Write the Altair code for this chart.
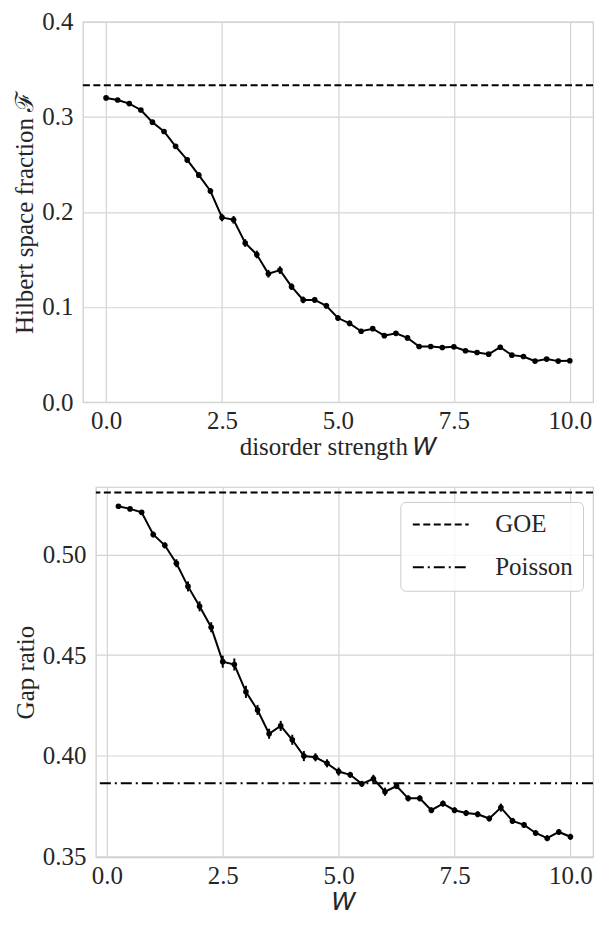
import altair as alt
import pandas as pd

# ---------------- data ----------------
W_top = [0.0, 0.25, 0.5, 0.75, 1.0, 1.25, 1.5, 1.75, 2.0, 2.25, 2.5, 2.75, 3.0, 3.25,
         3.5, 3.75, 4.0, 4.25, 4.5, 4.75, 5.0, 5.25, 5.5, 5.75, 6.0, 6.25, 6.5, 6.75,
         7.0, 7.25, 7.5, 7.75, 8.0, 8.25, 8.5, 8.75, 9.0, 9.25, 9.5, 9.75, 10.0]
F_vals = [0.3199, 0.3177, 0.3139, 0.3072, 0.2944, 0.2846, 0.2690, 0.2547, 0.2387, 0.2220,
          0.1942, 0.1917, 0.1673, 0.1552, 0.1350, 0.1388, 0.1214, 0.1075, 0.1075, 0.1013,
          0.0884, 0.0828, 0.0745, 0.0772, 0.0699, 0.0723, 0.0675, 0.0585, 0.0585, 0.0574,
          0.0581, 0.0540, 0.0522, 0.0504, 0.0577, 0.0494, 0.0480, 0.0431, 0.0452, 0.0431,
          0.0435]
F_err = [0.001, 0.001, 0.001, 0.0015, 0.002, 0.002, 0.0025, 0.003, 0.003, 0.003,
         0.004, 0.004, 0.004, 0.004, 0.004, 0.004, 0.0035, 0.0035, 0.003, 0.003,
         0.003, 0.003, 0.0025, 0.0025, 0.0025, 0.0025, 0.0025, 0.002, 0.002, 0.002,
         0.002, 0.002, 0.002, 0.002, 0.0025, 0.002, 0.002, 0.002, 0.002, 0.002, 0.002]

W_bot = [0.25, 0.5, 0.75, 1.0, 1.25, 1.5, 1.75, 2.0, 2.25, 2.5, 2.75, 3.0, 3.25,
         3.5, 3.75, 4.0, 4.25, 4.5, 4.75, 5.0, 5.25, 5.5, 5.75, 6.0, 6.25, 6.5, 6.75,
         7.0, 7.25, 7.5, 7.75, 8.0, 8.25, 8.5, 8.75, 9.0, 9.25, 9.5, 9.75, 10.0]
G_vals = [0.5239, 0.5226, 0.5209, 0.5099, 0.5045, 0.4956, 0.4841, 0.4742, 0.4638, 0.4467,
          0.4453, 0.4317, 0.4227, 0.4109, 0.4148, 0.4079, 0.3998, 0.3992, 0.3962, 0.3921,
          0.3905, 0.3860, 0.3885, 0.3821, 0.3849, 0.3788, 0.3788, 0.3729, 0.3762, 0.3729,
          0.3715, 0.3709, 0.3688, 0.3742, 0.3676, 0.3656, 0.3616, 0.3590, 0.3621, 0.3597]
G_err = [0.0008, 0.0008, 0.001, 0.0015, 0.0015, 0.002, 0.0025, 0.0025, 0.0025, 0.003,
         0.003, 0.003, 0.0025, 0.0025, 0.0025, 0.0025, 0.0025, 0.002, 0.002, 0.002,
         0.0015, 0.0015, 0.002, 0.002, 0.0015, 0.0015, 0.0015, 0.0015, 0.0015, 0.0015,
         0.0015, 0.0015, 0.0015, 0.002, 0.0015, 0.0015, 0.0015, 0.0015, 0.0015, 0.0015]

ref_names = ["GOE", "Poisson"]
ref_values = [0.5307, 0.3863]
F_goe = 1 / 3

x_ticks = [0, 2.5, 5, 7.5, 10]
F_ticks = [0.0, 0.1, 0.2, 0.3, 0.4]
G_ticks = [0.35, 0.40, 0.45, 0.50]

FONT = "Liberation Serif"
FS = 25
TXT = "#262626"

# ---------------- top panel ----------------
top_df = pd.DataFrame({"W": W_top, "F": F_vals,
                       "lo": [f - e for f, e in zip(F_vals, F_err)],
                       "hi": [f + e for f, e in zip(F_vals, F_err)]})

xt = dict(scale=alt.Scale(domain=[-0.5, 10.5], nice=False, zero=False),
          axis=alt.Axis(values=x_ticks, format=".1f"),
          title="disorder strength 𝑊")
yt = dict(scale=alt.Scale(domain=[0, 0.4], nice=False, zero=False),
          axis=alt.Axis(values=F_ticks, format=".1f"),
          title="Hilbert space fraction ℱ")

tb = alt.Chart(top_df)
t_ref = alt.Chart(pd.DataFrame({"v": [F_goe]})).mark_rule(
    color="black", strokeWidth=2, strokeDash=[7, 3.5]
).encode(y=alt.Y("v:Q", **yt))
t_err = tb.mark_rule(color="black", strokeWidth=2).encode(
    x=alt.X("W:Q", **xt), y=alt.Y("lo:Q", **yt), y2="hi:Q")
t_line = tb.mark_line(color="black", strokeWidth=2).encode(
    x=alt.X("W:Q", **xt), y=alt.Y("F:Q", **yt))
t_pts = tb.mark_circle(color="black", size=32, opacity=1).encode(
    x=alt.X("W:Q", **xt), y=alt.Y("F:Q", **yt))
top = alt.layer(t_ref, t_err, t_line, t_pts).properties(width=511, height=381)

# ---------------- bottom panel ----------------
bot_df = pd.DataFrame({"W": W_bot, "G": G_vals,
                       "lo": [g - e for g, e in zip(G_vals, G_err)],
                       "hi": [g + e for g, e in zip(G_vals, G_err)]})
ref_df = pd.DataFrame({"name": ref_names, "value": ref_values})

xb = dict(scale=alt.Scale(domain=[-0.2375, 10.4875], nice=False, zero=False),
          axis=alt.Axis(values=x_ticks, format=".1f"),
          title="𝑊")
yb = dict(scale=alt.Scale(domain=[0.3495, 0.5335], nice=False, zero=False),
          axis=alt.Axis(values=G_ticks, format=".2f"),
          title="Gap ratio")

bb = alt.Chart(bot_df)
b_ref = alt.Chart(ref_df).mark_rule(color="black", strokeWidth=2).encode(
    y=alt.Y("value:Q", **yb),
    strokeDash=alt.StrokeDash(
        "name:N",
        scale=alt.Scale(domain=ref_names, range=[[7, 3.5], [11, 4, 2, 4]]),
        legend=alt.Legend(
            title=None, orient="none", legendX=391, legendY=15,
            symbolType="M-1,0H4.6", symbolStrokeColor="black", symbolStrokeWidth=2,
            symbolSize=400, labelFont=FONT, labelFontSize=FS, labelColor=TXT,
            labelOffset=60, rowPadding=17, padding=10, cornerRadius=5,
            strokeColor="#cccccc", fillColor="rgba(255,255,255,0.8)",
        ),
    ),
)
b_err = bb.mark_rule(color="black", strokeWidth=2).encode(
    x=alt.X("W:Q", **xb), y=alt.Y("lo:Q", **yb), y2="hi:Q")
b_line = bb.mark_line(color="black", strokeWidth=2).encode(
    x=alt.X("W:Q", **xb), y=alt.Y("G:Q", **yb))
b_pts = bb.mark_circle(color="black", size=32, opacity=1).encode(
    x=alt.X("W:Q", **xb), y=alt.Y("G:Q", **yb))
bottom = alt.layer(b_ref, b_err, b_line, b_pts).properties(width=498, height=371)


def spacer():
    return alt.Chart(pd.DataFrame({"a": [0]})).mark_point(opacity=0, size=1).encode(
        x=alt.value(0), y=alt.value(0)
    ).properties(width=1, height=1, view=alt.ViewBackground(stroke="transparent"))


row1 = alt.hconcat(spacer(), top, spacing=0)
row2 = alt.hconcat(spacer(), bottom, spacing=0)

chart = alt.vconcat(row1, row2, spacing=25).properties(
    padding={"left": 0, "top": 0, "right": 0, "bottom": 0},
).resolve_legend(strokeDash="independent").configure_axis(
    labelFont=FONT, labelFontSize=FS, labelColor=TXT, labelPadding=10,
    titleFont=FONT, titleFontSize=FS, titleColor=TXT, titleFontWeight="normal",
    gridColor="#d4d4d4", gridWidth=1.2, domain=False, ticks=False,
).configure_axisX(titlePadding=1, labelPadding=6).configure_axisY(titlePadding=4).configure_view(
    stroke="#cccccc", strokeWidth=1.2
)

chart.save("out.html", embed_options={"renderer": "svg", "actions": False})
